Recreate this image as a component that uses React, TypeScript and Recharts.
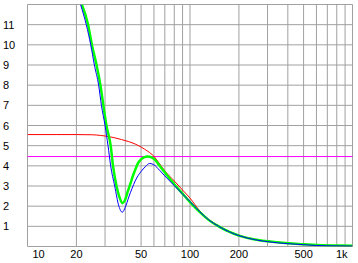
import { CartesianGrid, Line, LineChart, ReferenceLine, XAxis, YAxis } from 'recharts';

// grid lines on the log frequency axis, and the ones that get a label
const gridFreqs = [10, 20, 30, 40, 50, 60, 70, 80, 90, 100, 200, 300, 400, 500, 600, 700, 800, 900, 1000];
const labeledFreqs = [10, 20, 50, 100, 200, 500, 1000];
const yTicks = [0, 1, 2, 3, 4, 5, 6, 7, 8, 9, 10, 11, 12];

const refLevel = 4.46;

const redFreq = [10, 15, 20, 25, 28, 30, 34, 38, 42, 46, 50, 55, 60, 65, 70, 80, 90, 100, 115, 130, 150, 175, 200, 250, 300, 400, 500, 600, 800, 1000];
const redVal = [5.55, 5.55, 5.55, 5.54, 5.51, 5.48, 5.4, 5.3, 5.2, 5.08, 4.93, 4.72, 4.47, 4.1, 3.75, 3.25, 2.8, 2.4, 1.76, 1.35, 1.03, 0.74, 0.56, 0.36, 0.27, 0.17, 0.11, 0.08, 0.04, 0.02];

const blueFreq = [21.2, 23, 24.5, 25.8, 27.4, 28.5, 30, 31.3, 32.5, 34.4, 36.5, 38.3, 40, 42, 44, 46, 48, 50, 53, 56.5, 60, 65, 70, 76, 80, 90, 100, 115, 130, 150, 175, 200, 250, 300, 400, 500, 600, 800, 1000];
const blueVal = [12, 11, 10, 9, 8, 7, 6, 5, 4, 3, 2, 1.7, 1.95, 2.45, 2.88, 3.25, 3.52, 3.72, 3.95, 4.12, 4.05, 3.78, 3.5, 3.2, 3.02, 2.6, 2.23, 1.72, 1.33, 1.0, 0.72, 0.54, 0.34, 0.24, 0.14, 0.09, 0.05, 0.03, 0.02];

const greenFreq = [21.6, 23.6, 24.9, 26.6, 28.1, 29.3, 30.6, 32.5, 33.6, 35.3, 36.8, 38.4, 39.7, 41.6, 43.6, 44.6, 46.8, 47.8, 50, 52, 55, 58, 61, 65, 70, 76, 80, 90, 100, 115, 130, 150, 175, 200, 250, 300, 400, 500, 600, 800, 1000];
const greenVal = [12, 11, 10, 9, 8, 7, 6, 5, 4, 3, 2.45, 2.15, 2.28, 2.78, 3.27, 3.52, 3.95, 4.12, 4.32, 4.42, 4.46, 4.42, 4.3, 4.0, 3.67, 3.31, 3.09, 2.62, 2.2, 1.7, 1.32, 1.0, 0.72, 0.54, 0.35, 0.26, 0.16, 0.11, 0.07, 0.05, 0.04];

const toPoints = (freqs: number[], vals: number[]) => freqs.map((f, i) => ({ f, v: vals[i] }));

const redData = toPoints(redFreq, redVal);
const blueData = toPoints(blueFreq, blueVal);
const greenData = toPoints(greenFreq, greenVal);

const FONT = '"Liberation Sans", Arial, sans-serif';

function FreqTick(props: any) {
  const { x, payload } = props;
  const v = payload.value;
  if (!labeledFreqs.includes(v)) return <g />;
  const label = v >= 1000 ? `${v / 1000}k` : String(v);
  // edge labels are pushed inside the plot
  let anchor: 'start' | 'middle' | 'end' = 'middle';
  let dx = 0;
  if (v === labeledFreqs[0]) {
    anchor = 'start';
    dx = 5;
  } else if (v === labeledFreqs[labeledFreqs.length - 1]) {
    anchor = 'end';
    dx = -5;
  }
  return (
    <text x={x + dx} y={258} textAnchor={anchor} fontFamily={FONT} fontSize={11} fill="#000">
      {label}
    </text>
  );
}

function LevelTick(props: any) {
  const { y, payload } = props;
  const v = payload.value;
  if (v === 0 || v === 12) return <g />;
  return (
    <text x={3} y={y + 4} textAnchor="start" fontFamily={FONT} fontSize={11} fill="#000">
      {v}
    </text>
  );
}

export default function App() {
  return (
    <div style={{ position: 'absolute', left: 0, top: 0, width: 358, height: 263, background: '#fff' }}>
      <LineChart width={358} height={263} margin={{ top: 4.5, right: 5.5, bottom: 0, left: 0 }}>
        <CartesianGrid stroke="#a0a0a0" strokeWidth={1} />
        <XAxis
          dataKey="f"
          type="number"
          scale="log"
          domain={[10, 1000]}
          ticks={gridFreqs}
          allowDataOverflow
          axisLine={false}
          tickLine={false}
          height={16.5}
          tick={<FreqTick />}
          interval={0}
        />
        <YAxis
          type="number"
          domain={[0, 12]}
          ticks={yTicks}
          allowDataOverflow
          axisLine={false}
          tickLine={false}
          width={27.5}
          tick={<LevelTick />}
          interval={0}
        />
        <ReferenceLine y={refLevel} stroke="#ff00ff" strokeWidth={1} />
        <Line data={redData} dataKey="v" type="monotone" stroke="#ff0000" strokeWidth={1} dot={false} isAnimationActive={false} />
        <Line data={greenData} dataKey="v" type="monotone" stroke="#00ff00" strokeWidth={2.5} dot={false} isAnimationActive={false} />
        <Line data={blueData} dataKey="v" type="monotone" stroke="#0000ff" strokeWidth={1} dot={false} isAnimationActive={false} />
      </LineChart>
    </div>
  );
}
